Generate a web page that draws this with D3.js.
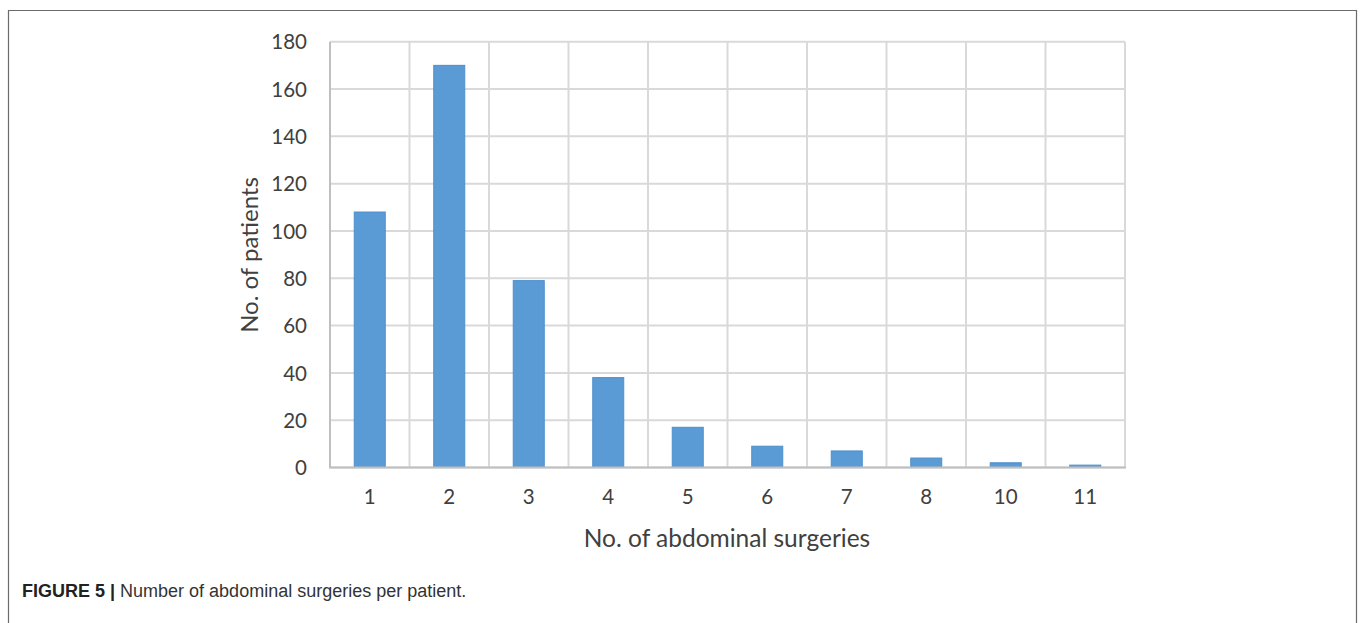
<!DOCTYPE html>
<html>
<head>
<meta charset="utf-8">
<script src="https://cdn.jsdelivr.net/npm/d3@7"></script>
<style>
  html, body { margin: 0; padding: 0; background: #fff; }
  svg { display: block; }
</style>
</head>
<body>
<svg id="chart" width="1360" height="623"></svg>
<script>
// Number of abdominal surgeries per patient
const surgeries = ["1", "2", "3", "4", "5", "6", "7", "8", "10", "11"];
const patients = [108, 170, 79, 38, 17, 9, 7, 4, 2, 1];
const yTicks = [0, 20, 40, 60, 80, 100, 120, 140, 160, 180];

const svg = d3.select("#chart");
const W = 1360, H = 623;
const plot = { left: 330, right: 1125, top: 41.7, bottom: 467.5 };
const font = "Lato, 'Open Sans', sans-serif";
const textColor = "#404040";

// Outer frame of the figure panel
svg.append("path")
  .attr("d", `M8.5,${H + 2} V10.5 H1356.5 V${H + 2}`)
  .attr("fill", "none")
  .attr("stroke", "#6b6b6b")
  .attr("stroke-width", 1.2);

const x = d3.scaleBand()
  .domain(surgeries)
  .range([plot.left, plot.right])
  .paddingInner(0.61)
  .paddingOuter(0.305);

const y = d3.scaleLinear()
  .domain([0, 180])
  .range([plot.bottom, plot.top]);

// Horizontal gridlines
svg.append("g")
  .selectAll("line")
  .data(yTicks)
  .join("line")
  .attr("x1", plot.left).attr("x2", plot.right)
  .attr("y1", d => y(d)).attr("y2", d => y(d))
  .attr("stroke", "#d9d9d9")
  .attr("stroke-width", 2);

// Vertical gridlines at category boundaries
const bounds = d3.range(surgeries.length + 1).map(i => plot.left + i * (plot.right - plot.left) / surgeries.length);
svg.append("g")
  .selectAll("line")
  .data(bounds)
  .join("line")
  .attr("x1", d => d).attr("x2", d => d)
  .attr("y1", plot.top).attr("y2", plot.bottom)
  .attr("stroke", d => d === bounds[0] ? "#bfbfbf" : "#d9d9d9")
  .attr("stroke-width", 2);

// Bars
svg.append("g")
  .selectAll("rect")
  .data(surgeries.map((s, i) => ({ s, v: patients[i] })))
  .join("rect")
  .attr("x", d => x(d.s))
  .attr("y", d => y(d.v))
  .attr("width", x.bandwidth())
  .attr("height", d => y(0) - y(d.v))
  .attr("fill", "#5b9bd5")
  .attr("stroke", "#4d8fcc")
  .attr("stroke-width", 1);

// Category axis baseline
svg.append("line")
  .attr("x1", plot.left - 1).attr("x2", plot.right + 1)
  .attr("y1", plot.bottom).attr("y2", plot.bottom)
  .attr("stroke", "#bfbfbf")
  .attr("stroke-width", 2);

// Y tick labels
const yAxis = svg.append("g")
  .attr("transform", `translate(${plot.left - 23},0)`)
  .call(d3.axisLeft(y).tickValues(yTicks).tickSize(0).tickPadding(0));
yAxis.select(".domain").remove();
yAxis.selectAll("text")
  .attr("font-family", font)
  .attr("font-size", 20.5)
  .attr("fill", textColor)
  .attr("dy", "0.35em");

// X tick labels
const xAxis = svg.append("g")
  .attr("transform", `translate(0,${plot.bottom + 22})`)
  .call(d3.axisBottom(x).tickSize(0).tickPadding(0));
xAxis.select(".domain").remove();
xAxis.selectAll("text")
  .attr("font-family", font)
  .attr("font-size", 20.5)
  .attr("fill", textColor)
  .attr("dy", "0.71em");

// Axis titles
svg.append("text")
  .attr("x", 727).attr("y", 547)
  .attr("text-anchor", "middle")
  .attr("font-family", font)
  .attr("font-size", 24.5)
  .attr("fill", textColor)
  .text("No. of abdominal surgeries");

svg.append("text")
  .attr("transform", "translate(258,255) rotate(-90)")
  .attr("text-anchor", "middle")
  .attr("font-family", font)
  .attr("font-size", 24)
  .attr("fill", textColor)
  .text("No. of patients");

// Caption
const cap = svg.append("text")
  .attr("x", 22).attr("y", 597)
  .attr("font-family", "'Liberation Sans', Arial, sans-serif")
  .attr("font-size", 18)
  .attr("fill", "#333");
cap.append("tspan").attr("font-weight", "bold").attr("fill", "#222").text("FIGURE 5 | ");
cap.append("tspan").text("Number of abdominal surgeries per patient.");
</script>
</body>
</html>
